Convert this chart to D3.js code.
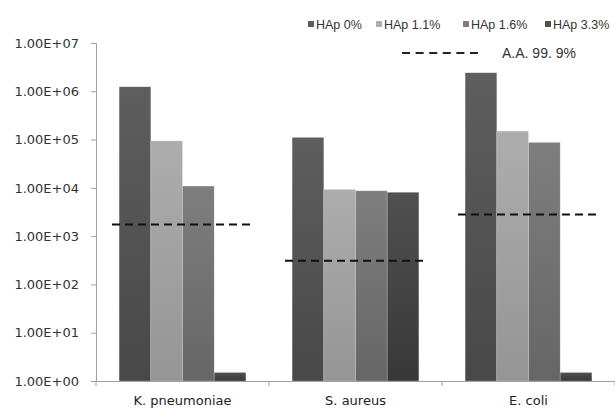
<!DOCTYPE html>
<html>
<head>
<meta charset="utf-8">
<script src="https://cdn.jsdelivr.net/npm/d3@7"></script>
<style>
  body { margin: 0; background: #fff; }
  svg text { font-family: "DejaVu Sans", sans-serif; }
</style>
</head>
<body>
<div class="chart"></div>
<script>
// data
var categories = ["K. pneumoniae", "S. aureus", "E. coli"];
var series = ["HAp 0%", "HAp 1.1%", "HAp 1.6%", "HAp 3.3%"];
var hap0 = [1.24e6, 1.11e5, 2.42e6];
var hap11 = [9.4e4, 9.3e3, 1.5e5];
var hap16 = [1.09e4, 8.7e3, 8.75e4];
var hap33 = [1.5, 8.1e3, 1.5];
var aa999 = [1750, 310, 2820];
var yTicks = [1, 10, 100, 1e3, 1e4, 1e5, 1e6, 1e7];
var tickLabels = ["1.00E+00", "1.00E+01", "1.00E+02", "1.00E+03", "1.00E+04", "1.00E+05", "1.00E+06", "1.00E+07"];

var colors = [["#5e5e5e", "#484848"], ["#adadad", "#959595"], ["#7e7e7e", "#666666"], ["#505050", "#383838"]];

var width = 615, height = 414;
var mLeft = 96, mRight = 615, mTop = 43, mBottom = 381;

var svg = d3.select('.chart').append('svg').attr('width', width).attr('height', height);

var defs = svg.append('defs');
colors.forEach(function(c, i) {
    var g = defs.append('linearGradient').attr('id', 'g' + i).attr('x1', 0).attr('y1', 0).attr('x2', 0).attr('y2', 1);
    g.append('stop').attr('offset', '0%').attr('stop-color', c[0]);
    g.append('stop').attr('offset', '100%').attr('stop-color', c[1]);
});

var x = d3.scaleBand().domain(categories).range([mLeft, mRight]).paddingInner(0).paddingOuter(0);
var xs = d3.scaleBand().domain(series).range([0, x.bandwidth()]).paddingInner(0).paddingOuter(0.73);
var y = d3.scaleLog().domain([1, 1e7]).range([mBottom, mTop]);

// y axis
var yAxis = svg.append('g').attr('transform', `translate(${mLeft},0)`)
    .call(d3.axisLeft(y).tickValues(yTicks).tickFormat(function(d, i) { return tickLabels[i]; }).tickSizeOuter(0).tickSize(5).tickPadding(12));
yAxis.select('.domain').attr('stroke', '#a0a0a0');
yAxis.selectAll('.tick line').attr('stroke', '#a0a0a0');
yAxis.selectAll('.tick text').attr('fill', '#333').style('font-size', '13px');

// bars
var data = [hap0, hap11, hap16, hap33];
data.forEach(function(vals, si) {
    svg.selectAll('.bar' + si).data(vals).enter().append('rect')
        .attr('class', 'bar' + si)
        .attr('x', function(d, i) { return x(categories[i]) + xs(series[si]); })
        .attr('y', function(d) { return y(d); })
        .attr('width', xs.bandwidth())
        .attr('height', function(d) { return mBottom - y(d); })
        .attr('fill', 'url(#g' + si + ')')
        .attr('stroke', 'rgba(255,255,255,0.35)')
        .attr('stroke-width', 0.6);
});

// x axis
var xAxis = svg.append('g').attr('transform', `translate(0,${mBottom})`)
    .call(d3.axisBottom(x).tickSize(0).tickPadding(15));
xAxis.select('.domain').attr('stroke', '#a0a0a0');
xAxis.selectAll('.tick text').attr('fill', '#222').style('font-size', '13px');
svg.append('g').selectAll('line').data(categories.concat(['end'])).enter().append('line')
    .attr('x1', function(d, i) { return mLeft + i * x.step(); })
    .attr('x2', function(d, i) { return mLeft + i * x.step(); })
    .attr('y1', mBottom).attr('y2', mBottom + 5)
    .attr('stroke', '#a0a0a0');

// 99.9% reduction lines
svg.selectAll('.aa').data(aa999).enter().append('line')
    .attr('class', 'aa')
    .attr('x1', function(d, i) { return x(categories[i]) + 16; })
    .attr('x2', function(d, i) { return x(categories[i]) + 159; })
    .attr('y1', function(d) { return y(d); })
    .attr('y2', function(d) { return y(d); })
    .attr('stroke', '#111')
    .attr('stroke-width', 2)
    .attr('stroke-dasharray', '8,5');

// legend
var legX = [308, 376, 463, 545];
var leg = svg.append('g').selectAll('g').data(series).enter().append('g')
    .attr('transform', function(d, i) { return `translate(${legX[i]},21)`; });
leg.append('rect').attr('width', 6).attr('height', 6).attr('y', 0)
    .attr('fill', function(d, i) { return colors[i][0]; });
leg.append('text').attr('x', 8).attr('y', 7.5).text(function(d) { return d; })
    .style('font-family', '"Liberation Sans", Arial, sans-serif').style('font-size', '12.5px').attr('fill', '#333');

svg.append('line').attr('x1', 402).attr('x2', 478).attr('y1', 53).attr('y2', 53)
    .attr('stroke', '#222').attr('stroke-width', 2).attr('stroke-dasharray', '8,5.6');
svg.append('text').attr('x', 502).attr('y', 58).text('A.A. 99. 9%')
    .style('font-family', '"Liberation Sans", Arial, sans-serif').style('font-size', '14px').attr('fill', '#333');
</script>
</body>
</html>
